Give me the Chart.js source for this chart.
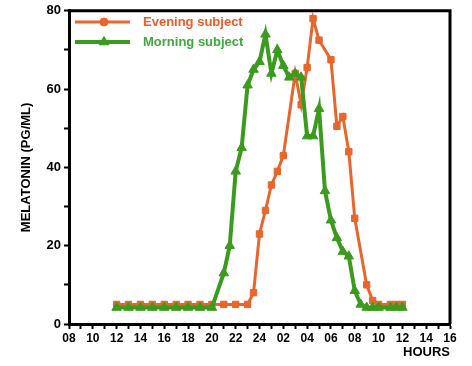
<!DOCTYPE html>
<html><head><meta charset="utf-8">
<script src="https://cdn.jsdelivr.net/npm/chart.js@4"></script>
<style>html,body{margin:0;padding:0;background:#fff}</style>
</head><body>
<canvas id="c" width="472" height="366" style="width:472px;height:366px;display:block"></canvas>
<script>
const seriesNames = ['Evening subject', 'Morning subject'];
const eveningHours  = [12,13,14,15,16,17,18,19,20,21,22,23,23.5,24,24.5,25,25.5,26,27,27.5,28,28.5,29,30,30.5,31,31.5,32,33,33.5,34,35,35.5,36];
const eveningValues = [5,5,5,5,5,5,5,5,5,5,5,5,8,23,29,35.5,39,43,64,56,65.5,78,72.5,67.5,50.5,53,44,27,10,6,5,5,5,5];
const morningHours  = [12,13,14,15,16,17,18,19,20,21,21.5,22,22.5,23,23.5,24,24.5,25,25.5,26,26.5,27,27.5,28,28.5,29,29.5,30,30.5,31,31.5,32,32.5,33,33.5,34,35,35.5,36];
const morningValues = [4.2,4.2,4.2,4.2,4.2,4.2,4.2,4.2,4.2,13,20,39,45,61,65,67,74,64,70,66,63,64,63,48,48,55,34,26.5,22,18.5,17.3,8.5,5,4.2,4.2,4.2,4.2,4.2,4.2];
const hourTicks = [8,10,12,14,16,18,20,22,24,26,28,30,32,34,36,38,40];
const yTicks = [0,20,40,60,80];

const ORANGE = '#E8652C', ORANGE_TXT = '#EE5A28';
const GREEN = '#3A9B1F', GREEN_TXT = '#3DA83C';
const FONT = "'Liberation Sans', Arial, sans-serif";

function hourLabel(v){
  const h = v <= 24 ? v : v - 24;
  return (h < 10 ? '0' : '') + h;
}

const frame = {
  id: 'frame',
  afterDatasetsDraw(chart){
    const {ctx, chartArea:a} = chart;
    ctx.save();
    ctx.strokeStyle = '#000';
    ctx.lineWidth = 3;
    ctx.beginPath();
    ctx.moveTo(a.left, a.top); ctx.lineTo(a.right, a.top); ctx.lineTo(a.right, a.bottom);
    ctx.stroke();
    ctx.restore();
  },
  afterDraw(chart){
    const ctx = chart.ctx;
    const items = [
      {label: seriesNames[0], color: ORANGE, txt: ORANGE_TXT, style: 'circle', r: 4, y: 22, w: 3},
      {label: seriesNames[1], color: GREEN, txt: GREEN_TXT, style: 'triangle', r: 5.5, y: 42, w: 4}
    ];
    ctx.save();
    items.forEach(it => {
      ctx.strokeStyle = it.color; ctx.lineWidth = it.w;
      ctx.beginPath(); ctx.moveTo(75, it.y); ctx.lineTo(130, it.y); ctx.stroke();
      ctx.fillStyle = it.color; ctx.strokeStyle = it.color; ctx.lineWidth = 1;
      Chart.helpers.drawPoint(ctx, {pointStyle: it.style, radius: it.r, borderWidth: 1}, 104, it.y);
      ctx.fillStyle = it.txt;
      ctx.font = "bold 13px " + FONT;
      ctx.textBaseline = 'middle';
      ctx.fillText(it.label, 143, it.y);
    });
    ctx.restore();
  }
};

const toPts = (xs, ys) => xs.map((x, i) => ({x, y: ys[i]}));

new Chart(document.getElementById('c'), {
  type: 'line',
  data: {
    datasets: [
      {label: seriesNames[1], data: toPts(morningHours, morningValues), borderColor: GREEN, backgroundColor: GREEN,
       borderWidth: 4, pointStyle: 'triangle', pointRadius: 5.5, pointBorderWidth: 1, tension: 0},
      {label: seriesNames[0], data: toPts(eveningHours, eveningValues), borderColor: ORANGE, backgroundColor: ORANGE,
       borderWidth: 3, pointStyle: 'rect', pointRadius: 4.5, pointBorderWidth: 1, tension: 0}
    ]
  },
  options: {
    responsive: false, animation: false, devicePixelRatio: 1,
    layout: {padding: {top: 5, right: 22, left: 0, bottom: 0}},
    plugins: {legend: {display: false}, tooltip: {enabled: false}},
    scales: {
      x: {
        type: 'linear', min: 8, max: 40,
        afterFit(s){ s.height = 42; },
        border: {display: true, width: 3, color: '#000'},
        grid: {drawOnChartArea: false, drawTicks: true, tickLength: 5, tickWidth: 2, tickColor: '#000'},
        ticks: {stepSize: 1, autoSkip: false, maxRotation: 0, padding: 2, color: '#000',
          font: {family: FONT, size: 12, weight: 'bold'},
          callback: v => (hourTicks.includes(v) ? hourLabel(v) : '')},
        title: {display: true, text: 'HOURS', align: 'end', color: '#000',
          font: {family: FONT, size: 13, weight: 'bold'}, padding: {top: 0, bottom: 6}}
      },
      y: {
        min: 0, max: 80,
        afterFit(s){ s.width = 69; },
        border: {display: true, width: 3, color: '#000'},
        grid: {drawOnChartArea: false, drawTicks: true, tickLength: 5, tickWidth: 2, tickColor: '#000'},
        ticks: {stepSize: 10, padding: 3, color: '#000',
          font: {family: FONT, size: 13, weight: 'bold'},
          callback: v => (yTicks.includes(v) ? String(v) : '')},
        title: {display: true, text: 'MELATONIN (PG/ML)', color: '#000',
          font: {family: FONT, size: 13, weight: 'bold'}, padding: {top: 19, bottom: 0}}
      }
    }
  },
  plugins: [frame]
});
</script>
</body></html>
